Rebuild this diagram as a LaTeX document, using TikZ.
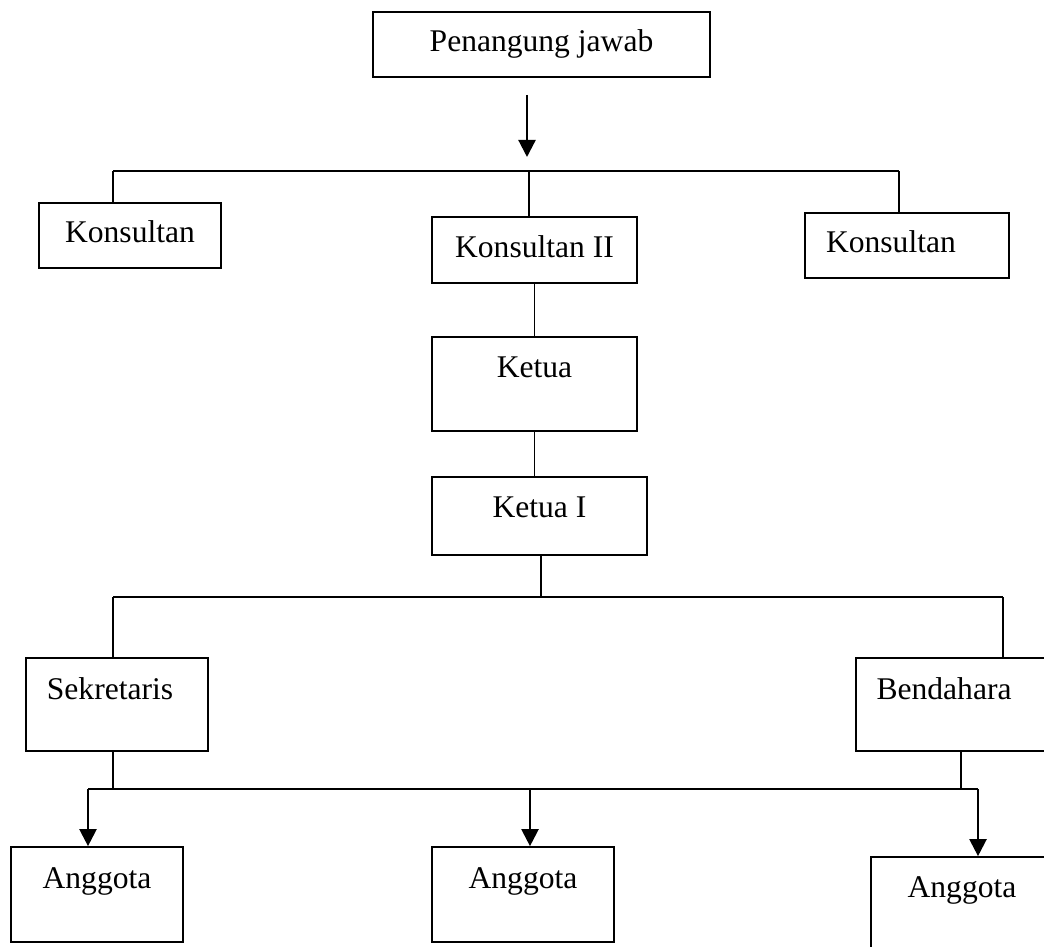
\documentclass[tikz,border=0pt]{standalone}
\usepackage{fontspec}
\setmainfont{Liberation Serif}
\usepackage{tikz}
\usetikzlibrary{arrows.meta}

\tikzset{
    orgbox/.style 2 args={draw, rectangle, line width=0.65pt, inner sep=0pt,
        minimum width=#1*0.38pt, minimum height=#2*0.38pt,
        text height=7.6pt, font=\fontsize{12}{14}\selectfont},
    textdrop/.style={text depth=#1*0.38pt},
    linkline/.style={line width=0.65pt},
    arrowline/.style={line width=0.85pt, -{Triangle[width=6.5pt,length=6.5pt]}}
}

\begin{document}
\begin{tikzpicture}[x=0.38pt, y=-0.38pt]
    \useasboundingbox (0,0) rectangle (1044,946);

    \node (penjab) [orgbox={337}{65}, textdrop=5] at (541.5,44.5) {Penangung jawab};

    \node (konsulA) [orgbox={182}{65}, textdrop=5] at (130,235.5) {Konsultan};
    \node (konsulB) [orgbox={205}{66}, textdrop=5] at (534.5,250) {Konsultan II};
    \node (konsulC) [orgbox={204}{65}, textdrop=7] at (907,245.5) {Konsultan\kern12.2pt};

    \node (ketua) [orgbox={205}{94}, textdrop=34] at (534.5,384) {Ketua};
    \node (ketuaI) [orgbox={215}{78}, textdrop=18] at (539.5,516) {Ketua I};

    \node (sekr) [orgbox={182}{93}, textdrop=31] at (117,704.5) {Sekretaris\kern5.3pt};
    \node (bend) [orgbox={194}{93}, textdrop=31] at (953,704.5) {Bendahara\kern6.8pt};

    \node (anggotaA) [orgbox={172}{95}, textdrop=33] at (97,894.5) {Anggota};
    \node (anggotaB) [orgbox={182}{95}, textdrop=33] at (523,894.5) {Anggota};
    \node (anggotaC) [orgbox={182}{95}, textdrop=35] at (962,904.5) {Anggota};

    % bus points
    \coordinate (arrowTop) at (527,95);
    \coordinate (arrowEnd) at (527,157);
    \coordinate (busAL) at (113,171);
    \coordinate (busAM) at (529,171);
    \coordinate (busAR) at (899,171);
    \coordinate (busBL) at (113,597);
    \coordinate (busBM) at (541,597);
    \coordinate (busBR) at (1003,597);
    \coordinate (busCL) at (88,789);
    \coordinate (busCS) at (113,789);
    \coordinate (busCM) at (530,789);
    \coordinate (busCB) at (961,789);
    \coordinate (busCR) at (978,789);

    \draw [arrowline] (arrowTop) -- (arrowEnd);

    \draw [linkline] (busAL) -- (busAR);
    \draw [linkline] (busAL) -- (busAL |- konsulA.north);
    \draw [linkline] (busAM) -- (busAM |- konsulB.north);
    \draw [linkline] (busAR) -- (busAR |- konsulC.north);

    \draw [linkline] (konsulB.south) -- (konsulB.south |- ketua.north);
    \draw [linkline] (ketua.south) -- (ketua.south |- ketuaI.north);
    \draw [linkline] (busBM |- ketuaI.south) -- (busBM);

    \draw [linkline] (busBL) -- (busBR);
    \draw [linkline] (busBL) -- (busBL |- sekr.north);
    \draw [linkline] (busBR) -- (busBR |- bend.north);

    \draw [linkline] (busCS |- sekr.south) -- (busCS);
    \draw [linkline] (busCB |- bend.south) -- (busCB);
    \draw [linkline] (busCL) -- (busCR);

    \draw [arrowline] (busCL) -- (busCL |- anggotaA.north);
    \draw [arrowline] (busCM) -- (busCM |- anggotaB.north);
    \draw [arrowline] (busCR) -- (busCR |- anggotaC.north);
\end{tikzpicture}
\end{document}
